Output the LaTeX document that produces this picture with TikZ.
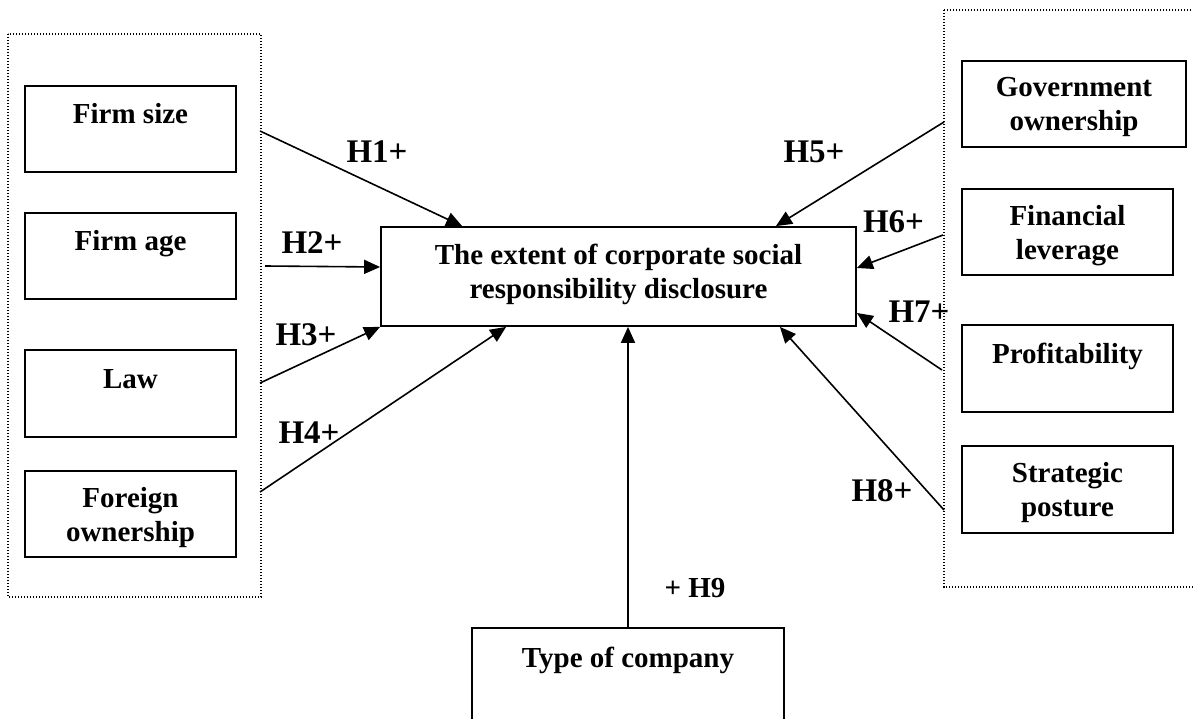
\documentclass[tikz,border=0pt]{standalone}
\usepackage{fontspec}
\setmainfont{Liberation Serif}
\usetikzlibrary{arrows.meta}
\tikzset{
	varbox/.style = {draw, line width = 1.8pt, inner sep = 0pt, align = center, font = \fontsize{29}{34}\selectfont\bfseries, text height = 20pt, text depth = 30pt},
	twoline/.style = {text height = 54pt, text depth = 0pt},
	hyplabel/.style = {inner sep = 0pt, anchor = base, font = \fontsize{33}{36}\selectfont\bfseries},
	grpframe/.style = {line width = 1.3pt, dash pattern = on 1.3pt off 1.7pt},
	effect/.style = {line width = 1.6pt, -{Triangle[length = 16pt, width = 14pt]}}
}
\begin{document}
\begin{tikzpicture}[x = 1pt, y = -1pt]
	\useasboundingbox (0,0) rectangle (1193,719);
	\draw [grpframe] (8,34) rectangle (261,597);
	\draw [grpframe] (944,10) rectangle (1215,587);
	\node [varbox, minimum width = 211pt, minimum height = 86pt] (fsize) at (130.5,129) {Firm size};
	\node [varbox, minimum width = 211pt, minimum height = 86pt] (fage) at (130.5,256) {Firm age};
	\node [varbox, minimum width = 211pt, minimum height = 87pt] (law) at (130.5,393.5) {Law};
	\node [varbox, twoline, minimum width = 211pt, minimum height = 86pt] (foreign) at (130.5,514) {Foreign\\ownership};
	\node [varbox, twoline, minimum width = 224pt, minimum height = 86pt] (gov) at (1074,104) {Government\\ownership};
	\node [varbox, twoline, minimum width = 211pt, minimum height = 86pt] (lever) at (1067.5,232) {Financial\\leverage};
	\node [varbox, minimum width = 211pt, minimum height = 87pt] (profit) at (1067.5,368.5) {Profitability};
	\node [varbox, twoline, minimum width = 211pt, minimum height = 87pt] (posture) at (1067.5,489.5) {Strategic\\posture};
	\node [varbox, minimum width = 475pt, minimum height = 99pt, text height = 53pt, text depth = 10pt, font = \fontsize{29}{33}\selectfont\bfseries] (csrd) at (618.5,276.5) {The extent of corporate social\\responsibility disclosure};
	\node [varbox, minimum width = 312pt, minimum height = 112pt, text depth = 54pt] (ctype) at (628,684) {Type of company};
	\coordinate (s1) at (260,131);
	\coordinate (s2) at (265,266);
	\coordinate (s3) at (260,383);
	\coordinate (s4) at (260,492);
	\coordinate (s5) at (944,122);
	\coordinate (s6) at (943,235);
	\coordinate (s7) at (942,370);
	\coordinate (s8) at (944,510);
	\draw [effect] (s1) -- ([xshift = 82pt]csrd.north west);
	\draw [effect] (s2) -- ([yshift = 9.5pt]csrd.west);
	\draw [effect] (s3) -- (csrd.south west);
	\draw [effect] (s4) -- ([xshift = 126pt]csrd.south west);
	\draw [effect] (s5) -- ([xshift = -81pt]csrd.north east);
	\draw [effect] (s6) -- ([yshift = 8.5pt]csrd.east);
	\draw [effect] (s7) -- ([yshift = -36.5pt]csrd.east);
	\draw [effect] (s8) -- ([xshift = -77pt]csrd.south east);
	\draw [effect] (ctype.north) -- (ctype.north |- csrd.south);
	\node [hyplabel] (h1) at (377,163) {H1+};
	\node [hyplabel] (h2) at (312,254) {H2+};
	\node [hyplabel] (h3) at (306,345) {H3+};
	\node [hyplabel] (h4) at (309,443) {H4+};
	\node [hyplabel] (h5) at (814,163) {H5+};
	\node [hyplabel] (h6) at (893.5,233) {H6+};
	\node [hyplabel] (h7) at (919,322) {H7+};
	\node [hyplabel] (h8) at (882,501) {H8+};
	\node [hyplabel, font = \fontsize{29}{33}\selectfont\bfseries] (h9) at (695,597) {+ H9};
\end{tikzpicture}
\end{document}
